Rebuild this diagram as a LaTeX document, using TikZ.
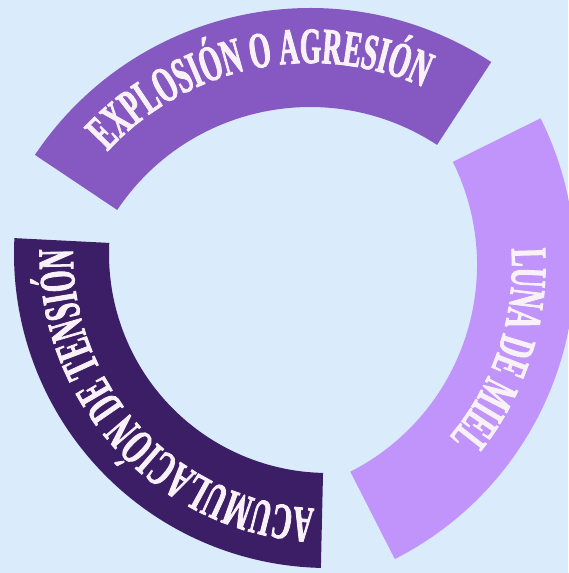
\documentclass[tikz,border=0pt]{standalone}
\usepackage{fontspec}
\newfontfamily\ringfont[FakeStretch=0.54, FakeBold=1.6]{Liberation Serif Bold}
\usetikzlibrary{decorations.text}

\definecolor{bgblue}{HTML}{DAEBFC}
\definecolor{explcol}{HTML}{8559C1}
\definecolor{lunacol}{HTML}{C094FA}
\definecolor{acumcol}{HTML}{3C1E66}
\definecolor{lettercol}{HTML}{F8F1F7}

\tikzset{
    ringtext/.style={decorate, decoration={text along path, text align=center,
        text color=lettercol,
        text={|\ringfont\fontsize{51}{51}\selectfont|#1}}}
}

\begin{document}
\begin{tikzpicture}[x=1pt,y=1pt]
        \fill[bgblue] (0,0) rectangle (568,-573);
        \useasboundingbox (0,0) rectangle (568,-573);

        \coordinate (E) at (310,-339);
        \coordinate (L) at (245,-265);
        \coordinate (T) at (328,-254);

        % the three bands
        \fill[explcol] ([shift={(56.8:331)}]E) arc[start angle=56.8, end angle=146.2, radius=331]
            -- ([shift={(146.2:232)}]E) arc[start angle=146.2, end angle=56.8, radius=232] -- cycle;
        \fill[lunacol] ([shift={(-63:330)}]L) arc[start angle=-63, end angle=26.4, radius=330]
            -- ([shift={(26.4:232)}]L) arc[start angle=26.4, end angle=-63, radius=232] -- cycle;
        \fill[acumcol] ([shift={(177.1:314)}]T) arc[start angle=177.1, end angle=268.7, radius=314]
            -- ([shift={(268.7:219)}]T) arc[start angle=268.7, end angle=177.1, radius=219] -- cycle;

        % labels
        \path[ringtext={EXPLOSIÓN O AGRESIÓN}] ([shift={(146.2:276)}]E) arc[start angle=146.2, end angle=56.8, radius=276];
        \path[ringtext={LUNA DE MIEL}] ([shift={(26.4:267)}]L) arc[start angle=26.4, end angle=-63, radius=267];
        \path[ringtext={ACUMULACIÓN DE TENSIÓN}] ([shift={(268.7:255)}]T) arc[start angle=268.7, end angle=177.1, radius=255];
    \end{tikzpicture}
\end{document}
